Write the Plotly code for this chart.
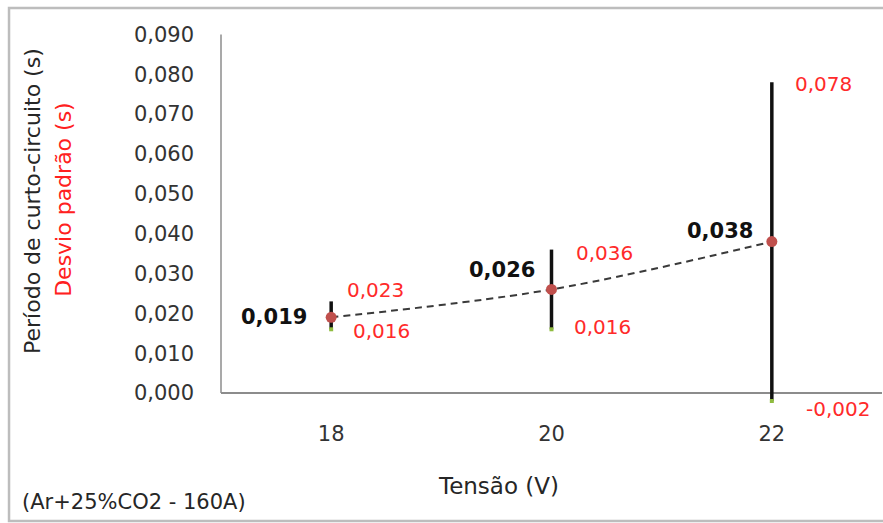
import numpy as np
import plotly.graph_objects as go

# Tensão (V) categories and measured short-circuit period (s)
tensao = ["18", "20", "22"]
periodo = [0.019, 0.026, 0.038]
# mean ± standard deviation bounds (s)
limite_sup = [0.023, 0.036, 0.078]
limite_inf = [0.016, 0.016, -0.002]

y_ticks = [0.00, 0.01, 0.02, 0.03, 0.04, 0.05, 0.06, 0.07, 0.08, 0.09]

# label offsets in pixels (dx, dy), placement only
off_media = [(-57, 0), (-50, 19), (-52, 11)]
off_sup = [(44, 11), (53, -3), (52, -2)]
off_inf = [(50, -2), (51, 2), (66, -8)]

media = np.array(periodo)
sup = np.array(limite_sup)
inf = np.array(limite_inf)


def fmt(v):
    return f"{v:.3f}".replace(".", ",")


fig = go.Figure()

# dashed smoothed trend with standard-deviation bars
fig.add_trace(go.Scatter(
    x=tensao, y=periodo, mode="lines",
    line=dict(color="#3a3a3a", width=2, dash="7px,5px", shape="spline", smoothing=1),
    error_y=dict(type="data", symmetric=False, array=sup - media,
                 arrayminus=media - inf, color="#111111", thickness=3.5, width=0),
    hoverinfo="skip", showlegend=False,
))

# small markers at the lower bound
fig.add_trace(go.Scatter(
    x=tensao, y=limite_inf, mode="markers",
    marker=dict(symbol="square", size=4, color="#8fbc3f"),
    showlegend=False, cliponaxis=False,
))

# mean points
fig.add_trace(go.Scatter(
    x=tensao, y=periodo, mode="markers",
    marker=dict(symbol="circle", size=11, color="#c0504d"),
    showlegend=False, cliponaxis=False,
))

annotations = []
# category position given by index on the category axis
for i, cat in enumerate(tensao):
    annotations.append(dict(
        x=i, y=periodo[i], xref="x", yref="y", text=fmt(periodo[i]),
        showarrow=False, xshift=off_media[i][0], yshift=off_media[i][1],
        font=dict(family="DejaVu Sans", size=21, color="#111111", weight="bold"),
    ))
    annotations.append(dict(
        x=i, y=limite_sup[i], xref="x", yref="y", text=fmt(limite_sup[i]),
        showarrow=False, xshift=off_sup[i][0], yshift=off_sup[i][1],
        font=dict(family="DejaVu Sans", size=20, color="#ff2a2a"),
    ))
    annotations.append(dict(
        x=i, y=limite_inf[i], xref="x", yref="y", text=fmt(limite_inf[i]),
        showarrow=False, xshift=off_inf[i][0], yshift=off_inf[i][1],
        font=dict(family="DejaVu Sans", size=20, color="#ff2a2a"),
    ))

# axis titles and note
annotations += [
    dict(x=-0.2844, y=0.55, xref="paper", yref="paper", text="Período de curto-circuito (s)",
         textangle=-90, showarrow=False, xanchor="center", yanchor="middle",
         font=dict(family="DejaVu Sans", size=22, color="#262626")),
    dict(x=-0.2375, y=0.553, xref="paper", yref="paper", text="Desvio padrão (s)",
         textangle=-90, showarrow=False, xanchor="center", yanchor="middle",
         font=dict(family="DejaVu Sans", size=22, color="#ff2020")),
    dict(x=0.4198, y=-0.2183, xref="paper", yref="paper", text="Tensão (V)",
         showarrow=False, xanchor="center", yanchor="middle",
         font=dict(family="DejaVu Sans", size=23, color="#262626")),
    dict(x=-0.1316, y=-0.2615, xref="paper", yref="paper", text="(Ar+25%CO2 - 160A)",
         showarrow=False, xanchor="center", yanchor="middle",
         font=dict(family="DejaVu Sans", size=21, color="#262626")),
]

shapes = [
    # outer frame: left, top and bottom edges (open on the right)
    dict(type="path", xref="paper", yref="paper",
         path="M 1.05 1.0701 L -0.3207 1.0701 L -0.3207 -0.3127 L 1.05 -0.3127",
         line=dict(color="#bdbdbd", width=2.5), layer="below"),
    # vertical axis line from 0 to top
    dict(type="line", xref="paper", yref="y", x0=0, x1=0, y0=0, y1=y_ticks[-1],
         line=dict(color="#8c8c8c", width=1.5), layer="below"),
]

fig.update_layout(
    width=883, height=523,
    margin=dict(l=221, r=1, t=34, b=118),
    paper_bgcolor="white", plot_bgcolor="white",
    separators=",.",
    showlegend=False,
    annotations=annotations,
    shapes=shapes,
    xaxis=dict(
        type="category", range=[-0.5, 2.5], showgrid=False, showline=False,
        zeroline=False, ticks="", ticklabelstandoff=14,
        tickfont=dict(family="DejaVu Sans", size=21, color="#333333"),
    ),
    yaxis=dict(
        range=[-0.003, 0.0901], tickvals=y_ticks, tickformat=".3f",
        showgrid=False, showline=False, ticks="", ticklabelstandoff=26,
        zeroline=True, zerolinecolor="#8c8c8c", zerolinewidth=2,
        tickfont=dict(family="DejaVu Sans", size=21, color="#333333"),
    ),
)

fig.write_html("out.html")
